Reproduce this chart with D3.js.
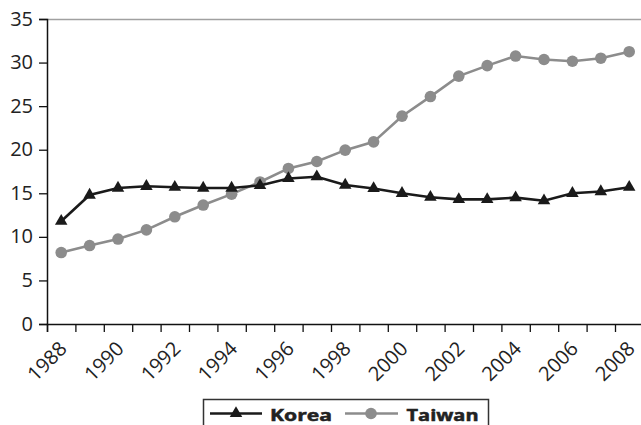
<!DOCTYPE html>
<html>
<head>
<meta charset="utf-8">
<script src="https://cdn.jsdelivr.net/npm/d3@7/dist/d3.min.js"></script>
<style>
  html, body { margin: 0; padding: 0; background: #fff; }
  svg { display: block; }
  text { font-family: "Open Sans", "Noto Sans", sans-serif; fill: #222; }
</style>
</head>
<body>
<svg id="chart" width="641" height="425"></svg>
<script>
// Annual values, 1988–2008
const years = d3.range(1988, 2009);
const korea = [11.8, 14.8, 15.6, 15.8, 15.7, 15.6, 15.6, 15.9, 16.7, 16.9, 15.95, 15.55, 15.0, 14.55, 14.3, 14.3, 14.5, 14.15, 15.0, 15.2, 15.7];
const taiwan = [8.2, 9.0, 9.75, 10.8, 12.3, 13.65, 14.9, 16.3, 17.85, 18.65, 19.95, 20.9, 23.85, 26.1, 28.45, 29.65, 30.75, 30.35, 30.15, 30.5, 31.25];
const yTicks = [0, 5, 10, 15, 20, 25, 30, 35];
const xLabels = [1988, 1990, 1992, 1994, 1996, 1998, 2000, 2002, 2004, 2006, 2008];
const seriesNames = ["Korea", "Taiwan"];

const svg = d3.select("#chart");
const plotLeft = 47, plotTop = 19, plotBottom = 324, step = 28.4;

const x = d3.scaleLinear()
  .domain([years[0] - 0.5, years[years.length - 1] + 0.5])
  .range([plotLeft, plotLeft + step * years.length]);
const y = d3.scaleLinear().domain([0, 35]).range([plotBottom, plotTop]);

// top border of the plot area
svg.append("line")
  .attr("x1", plotLeft).attr("x2", x.range()[1])
  .attr("y1", plotTop + 0.5).attr("y2", plotTop + 0.5)
  .attr("stroke", "#a0a0a0").attr("stroke-width", 1.5);

// y axis
const yAxis = svg.append("g")
  .attr("transform", `translate(${plotLeft},0)`)
  .call(d3.axisLeft(y).tickValues(yTicks).tickSize(8).tickPadding(6).tickFormat(d3.format("d")));
yAxis.select(".domain").attr("stroke", "#111").attr("stroke-width", 1.5);
yAxis.selectAll(".tick line").attr("stroke", "#111").attr("stroke-width", 1.3);
yAxis.selectAll("text").style("font-size", "20px").attr("fill", "#222").attr("dy", "0.3em");

// x axis: ticks on category boundaries
const boundaries = d3.range(years.length + 1).map(i => years[0] - 0.5 + i);
const xAxis = svg.append("g")
  .attr("transform", `translate(0,${plotBottom})`)
  .call(d3.axisBottom(x).tickValues(boundaries).tickSize(8).tickFormat(""));
xAxis.select(".domain").attr("stroke", "#111").attr("stroke-width", 1.5);
xAxis.selectAll(".tick line").attr("stroke", "#111").attr("stroke-width", 1.3);

// rotated year labels
svg.append("g").selectAll("text")
  .data(xLabels)
  .join("text")
  .attr("transform", d => `translate(${x(d) + 7},${plotBottom + 26}) rotate(-45)`)
  .attr("text-anchor", "end")
  .style("font-size", "20px")
  .text(d => d);

const line = d3.line().x((d, i) => x(years[i])).y(d => y(d));

// Taiwan
svg.append("path").datum(taiwan)
  .attr("d", line).attr("fill", "none")
  .attr("stroke", "#8c8c8c").attr("stroke-width", 2.6);
svg.append("g").selectAll("circle")
  .data(taiwan).join("circle")
  .attr("cx", (d, i) => x(years[i])).attr("cy", d => y(d))
  .attr("r", 5.8).attr("fill", "#8c8c8c");

// Korea
const tri = d3.symbol().type(d3.symbolTriangle).size(68);
svg.append("path").datum(korea)
  .attr("d", line).attr("fill", "none")
  .attr("stroke", "#1a1a1a").attr("stroke-width", 2.6);
svg.append("g").selectAll("path")
  .data(korea).join("path")
  .attr("transform", (d, i) => `translate(${x(years[i])},${y(d)})`)
  .attr("d", tri).attr("fill", "#1a1a1a");

// legend
const lg = svg.append("g");
lg.append("rect")
  .attr("x", 203.5).attr("y", 399.5).attr("width", 285).attr("height", 40)
  .attr("fill", "#fff").attr("stroke", "#333").attr("stroke-width", 1.5);
const ly = 413.5, lBase = 420.5;
lg.append("line").attr("x1", 210).attr("x2", 262).attr("y1", ly).attr("y2", ly)
  .attr("stroke", "#1a1a1a").attr("stroke-width", 2.6);
lg.append("path").attr("transform", `translate(236,${ly})`).attr("d", tri).attr("fill", "#1a1a1a");
lg.append("text").attr("x", 270).attr("y", lBase)
  .attr("textLength", 62).attr("lengthAdjust", "spacingAndGlyphs")
  .attr("stroke", "#222").attr("stroke-width", 0.5)
  .style("font-size", "16px").style("font-weight", "bold").text(seriesNames[0]);
lg.append("line").attr("x1", 345).attr("x2", 398).attr("y1", ly).attr("y2", ly)
  .attr("stroke", "#8c8c8c").attr("stroke-width", 2.6);
lg.append("circle").attr("cx", 371).attr("cy", ly).attr("r", 5.8).attr("fill", "#8c8c8c");
lg.append("text").attr("x", 406.5).attr("y", lBase)
  .attr("textLength", 72).attr("lengthAdjust", "spacingAndGlyphs")
  .attr("stroke", "#222").attr("stroke-width", 0.5)
  .style("font-size", "16px").style("font-weight", "bold").text(seriesNames[1]);
</script>
</body>
</html>
